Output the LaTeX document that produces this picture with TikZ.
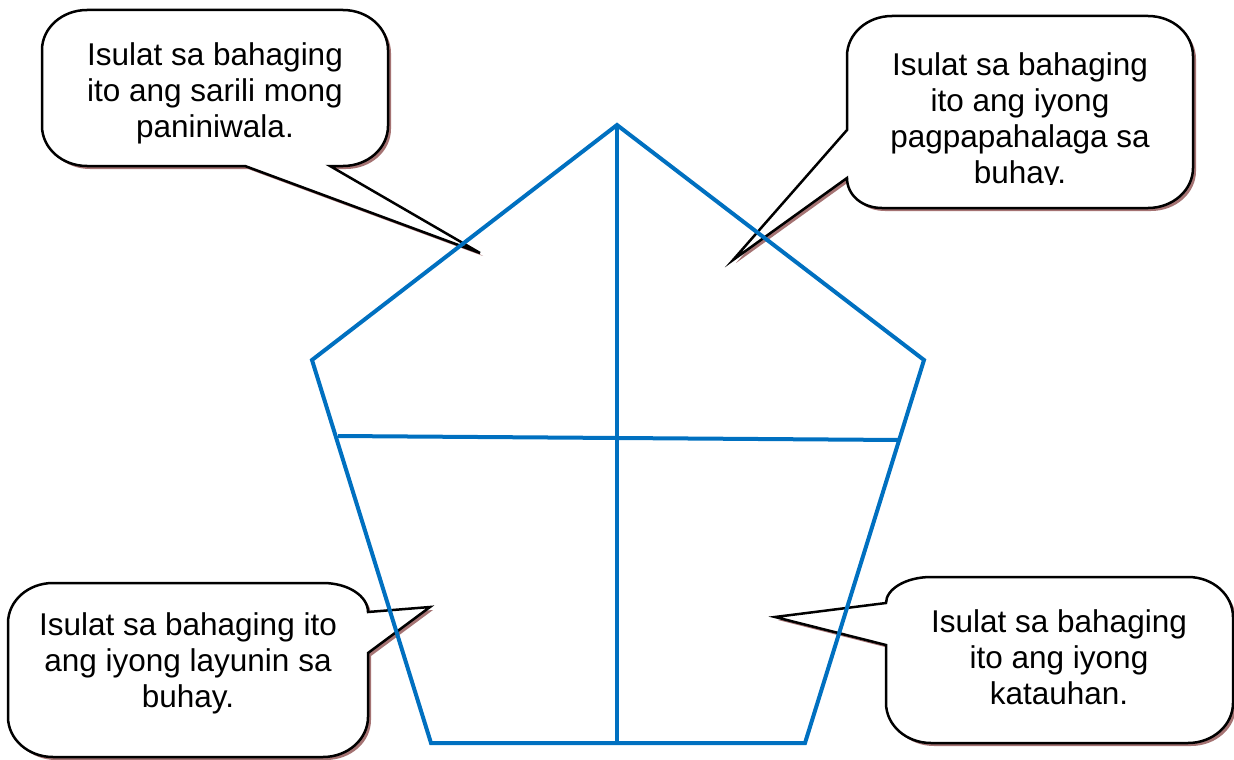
\documentclass[tikz,border=0pt]{standalone}
\usepackage{fontspec}
\setmainfont{Liberation Sans}
\usetikzlibrary{shadows}
\definecolor{pentablue}{RGB}{0,112,192}
\definecolor{shadowcol}{RGB}{165,115,115}
\begin{document}
\begin{tikzpicture}[x=1pt,y=-1pt,
  bubble/.style={draw=black, line width=2.5pt, fill=white, line join=miter,
    drop shadow={shadow xshift=3pt, shadow yshift=-3pt, fill=shadowcol, opacity=1}},
  bubbletext/.style={align=center, inner sep=0pt, font=\fontsize{31.5}{36}\selectfont},
  penta/.style={draw=pentablue, line width=4pt, line join=miter}]
\useasboundingbox (0,0) rectangle (1234,760);

% callout 1 (top left)
\path[bubble] (245,166) -- (480,253) -- (330,166) -- (343,166) .. controls (368,166) and (388,148) .. (388,126)
  -- (388,50) .. controls (388,28) and (368,10) .. (343,10) -- (87,10) .. controls (62,10) and (42,28) .. (42,50)
  -- (42,126) .. controls (42,148) and (62,166) .. (87,166) -- cycle;
\node[bubbletext] (t1) at (215,93) {Isulat sa bahaging\\ito ang sarili mong\\paniniwala.};

% callout 2 (top right)
\path[bubble] (847,130) -- (733,260) -- (847,178) .. controls (847,195) and (862,208) .. (882,208)
  -- (1148,208) .. controls (1173,208) and (1193,190) .. (1193,168) -- (1193,56) .. controls (1193,34) and (1173,16) .. (1148,16)
  -- (892,16) .. controls (867,16) and (847,34) .. (847,56) -- cycle;
\begin{scope}
\clip (847,16) rectangle (1193,184);
\node[bubbletext] (t2) at (1020,121) {Isulat sa bahaging\\ito ang iyong\\pagpapahalaga sa\\buhay.};
\end{scope}

% callout 3 (bottom left)
\path[bubble] (368,653) -- (430,607) -- (368,612) .. controls (368,596) and (348,583) .. (323,583)
  -- (53,583) .. controls (28,583) and (8,601) .. (8,623) -- (8,717) .. controls (8,739) and (28,757) .. (53,757)
  -- (323,757) .. controls (348,757) and (368,739) .. (368,717) -- cycle;
\node[bubbletext] (t3) at (188,663) {Isulat sa bahaging ito\\ang iyong layunin sa\\buhay.};

% callout 4 (bottom right)
\path[bubble] (886,603) -- (775,617) -- (886,645) -- (886,703) .. controls (886,725) and (906,743) .. (931,743)
  -- (1188,743) .. controls (1213,743) and (1233,725) .. (1233,703) -- (1233,617) .. controls (1233,595) and (1213,577) .. (1188,577)
  -- (931,577) .. controls (906,577) and (886,589) .. (886,603) -- cycle;
\node[bubbletext] (t4) at (1059,657) {Isulat sa bahaging\\ito ang iyong\\katauhan.};

% pentagon
\coordinate (top) at (617,125);
\coordinate (lft) at (312,360);
\coordinate (rgt) at (924,360);
\coordinate (bl) at (431,743);
\coordinate (br) at (805,743);
\coordinate (bm) at (617,743);
\coordinate (hl) at (338,436);
\coordinate (hr) at (899,440);
\draw[penta] (top) -- (rgt) -- (br) -- (bl) -- (lft) -- cycle;
\draw[penta] (top) -- (bm);
\draw[penta] (hl) -- (hr);
\end{tikzpicture}
\end{document}
